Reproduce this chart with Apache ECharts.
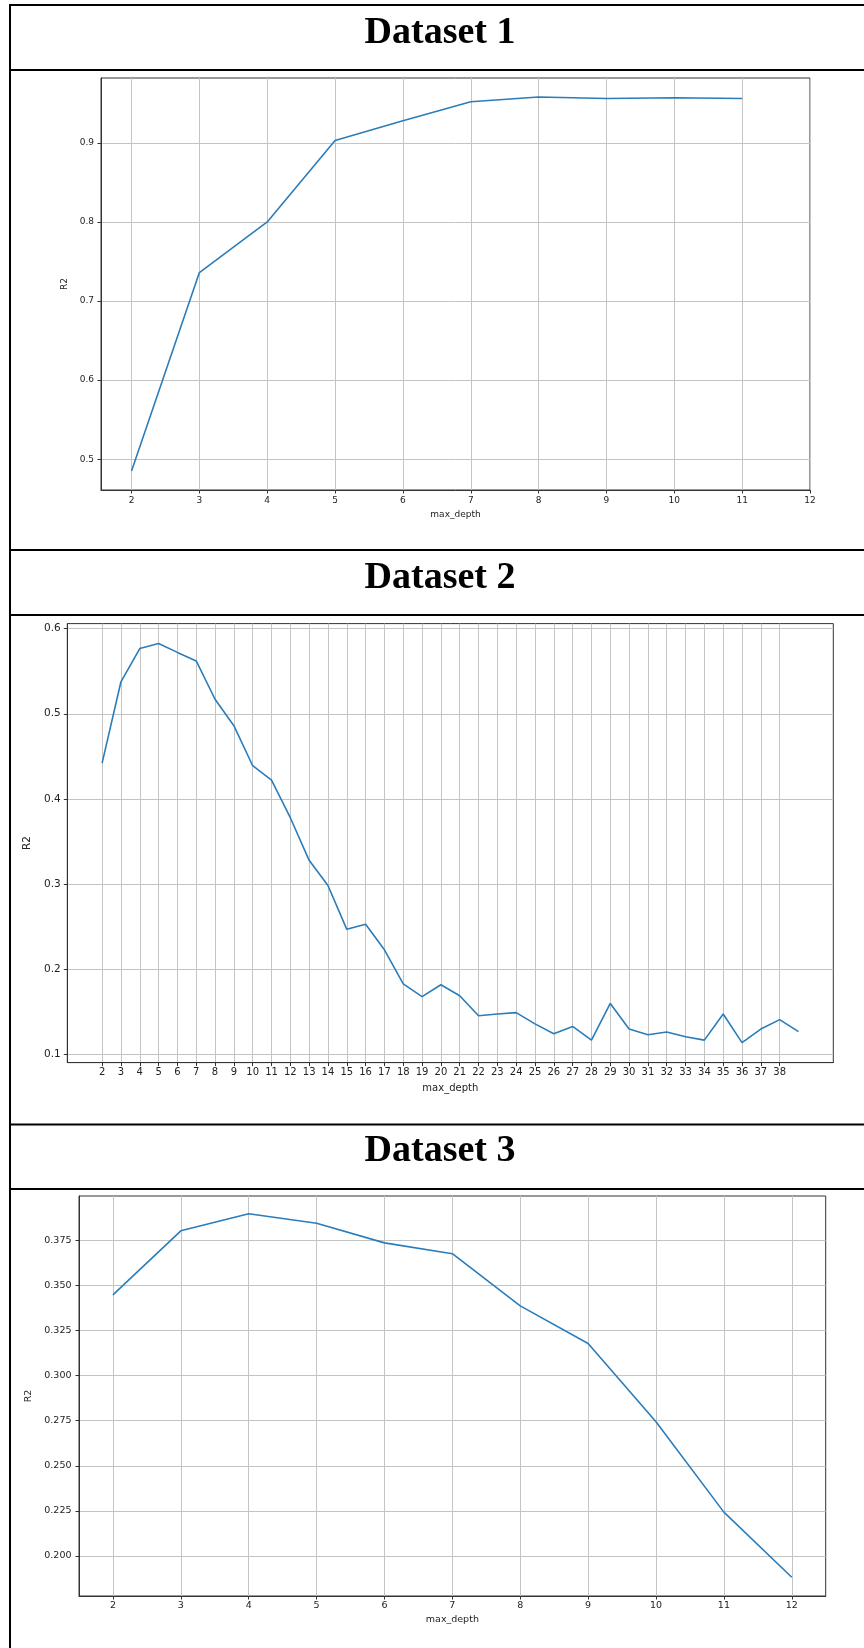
<!DOCTYPE html>
<html>
<head>
<meta charset="utf-8">
<script src="https://cdn.jsdelivr.net/npm/echarts@6/dist/echarts.min.js"></script>
<style>
  html, body { margin: 0; padding: 0; background: #fff; }
  #chart { width: 864px; height: 1648px; }
</style>
</head>
<body>
<div id="chart"></div>
<script>
// R2 score against tree max_depth for three datasets
const depth1 = [2, 3, 4, 5, 6, 7, 8, 9, 10, 11];
const r2Set1 = [0.485, 0.736, 0.800, 0.903, 0.928, 0.952, 0.958, 0.956, 0.957, 0.956];

const depth2 = [2, 3, 4, 5, 6, 7, 8, 9, 10, 11, 12, 13, 14, 15, 16, 17, 18, 19, 20, 21,
                22, 23, 24, 25, 26, 27, 28, 29, 30, 31, 32, 33, 34, 35, 36, 37, 38, 39];
const r2Set2 = [0.442, 0.5375, 0.5765, 0.5824, 0.572, 0.562, 0.517, 0.486, 0.439, 0.422,
                0.378, 0.328, 0.2985, 0.247, 0.253, 0.223, 0.183, 0.168, 0.182, 0.169,
                0.1455, 0.1476, 0.1493, 0.136, 0.1245, 0.133, 0.117, 0.160, 0.130, 0.1233,
                0.1266, 0.121, 0.117, 0.1476, 0.114, 0.130, 0.141, 0.127];

const depth3 = [2, 3, 4, 5, 6, 7, 8, 9, 10, 11, 12];
const r2Set3 = [0.3448, 0.3803, 0.3898, 0.3845, 0.3736, 0.3676, 0.3387, 0.3178, 0.2744, 0.2243, 0.1882];

// tick values
const xTicks1 = [2, 3, 4, 5, 6, 7, 8, 9, 10, 11, 12];
const yTicks1 = [0.5, 0.6, 0.7, 0.8, 0.9];
const xTicks2 = [2, 3, 4, 5, 6, 7, 8, 9, 10, 11, 12, 13, 14, 15, 16, 17, 18, 19, 20, 21,
                 22, 23, 24, 25, 26, 27, 28, 29, 30, 31, 32, 33, 34, 35, 36, 37, 38];
const yTicks2 = [0.1, 0.2, 0.3, 0.4, 0.5, 0.6];
const xTicks3 = [2, 3, 4, 5, 6, 7, 8, 9, 10, 11, 12];
const yTicks3 = [0.200, 0.225, 0.250, 0.275, 0.300, 0.325, 0.350, 0.375];

const titles = ['Dataset 1', 'Dataset 2', 'Dataset 3'];

const LINE_BLUE = '#2a7dba';
const SPINE = '#333333';
const GRIDC = '#c4c4c4';
const TICKFONT = 'DejaVu Sans';

function pairs(xs, ys) { return xs.map((x, i) => [x, ys[i]]); }

function xAxisCfg(idx, min, max, ticks, fs, margin, gap) {
  return {
    type: 'value', gridIndex: idx, min: min, max: max,
    name: 'max_depth', nameLocation: 'middle', nameGap: gap,
    nameTextStyle: { fontFamily: TICKFONT, fontSize: fs, color: '#222' },
    axisLine: { show: true, onZero: false, lineStyle: { color: SPINE, width: 1 } },
    axisTick: { show: true, inside: false, length: 3.5, customValues: ticks, lineStyle: { color: SPINE, width: 1 } },
    axisLabel: { customValues: ticks, fontFamily: TICKFONT, fontSize: fs, color: '#222', margin: margin,
                 showMinLabel: true, showMaxLabel: true, hideOverlap: false },
    splitLine: { show: true, lineStyle: { color: GRIDC, width: 1 } }
  };
}

function yAxisCfg(idx, min, max, ticks, digits, fs, margin, gap) {
  return {
    type: 'value', gridIndex: idx, min: min, max: max,
    name: 'R2', nameLocation: 'middle', nameGap: gap, nameRotate: 90,
    nameTextStyle: { fontFamily: TICKFONT, fontSize: fs, color: '#222' },
    axisLine: { show: true, onZero: false, lineStyle: { color: SPINE, width: 1 } },
    axisTick: { show: true, inside: false, length: 3.5, customValues: ticks, lineStyle: { color: SPINE, width: 1 } },
    axisLabel: { customValues: ticks, fontFamily: TICKFONT, fontSize: fs, color: '#222', margin: margin,
                 formatter: v => Number(v).toFixed(digits), hideOverlap: false },
    splitLine: { show: true, lineStyle: { color: GRIDC, width: 1 } }
  };
}

function seriesCfg(idx, xs, ys) {
  return {
    type: 'line', xAxisIndex: idx, yAxisIndex: idx,
    data: pairs(xs, ys), showSymbol: false, symbol: 'none', smooth: false,
    lineStyle: { color: LINE_BLUE, width: 1.6 }, z: 5
  };
}

// page frame: boxed header rows above each plot
const frameLines = [5, 70, 550, 615, 1124.5, 1189].map(y => ({
  type: 'line', silent: true,
  shape: { x1: 9, y1: y, x2: 864, y2: y },
  style: { stroke: '#000', lineWidth: 2 }
}));
frameLines.push({
  type: 'line', silent: true,
  shape: { x1: 10, y1: 4, x2: 10, y2: 1648 },
  style: { stroke: '#000', lineWidth: 2 }
});

const titleYs = [33, 578, 1151.5];
const titleTexts = titles.map((t, i) => ({
  type: 'text', silent: true,
  style: {
    text: t, x: 440, y: titleYs[i], align: 'center', verticalAlign: 'middle',
    font: 'bold 38px "Liberation Serif", "Times New Roman", serif', fill: '#000'
  }
}));

const chart = echarts.init(document.getElementById('chart'), null, { renderer: 'canvas' });
chart.setOption({
  animation: false,
  backgroundColor: '#fff',
  grid: [
    { left: 101, top: 78, width: 709, height: 412, show: true, borderColor: SPINE, borderWidth: 1, backgroundColor: 'transparent' },
    { left: 67.3, top: 623.6, width: 766, height: 439, show: true, borderColor: SPINE, borderWidth: 1, backgroundColor: 'transparent' },
    { left: 79, top: 1196, width: 746.7, height: 400, show: true, borderColor: SPINE, borderWidth: 1, backgroundColor: 'transparent' }
  ],
  xAxis: [
    xAxisCfg(0, 1.55, 12, xTicks1, 9, 6, 20),
    xAxisCfg(1, 0.15, 40.85, xTicks2, 10, 5, 21),
    xAxisCfg(2, 1.5, 12.5, xTicks3, 9.5, 5, 19)
  ],
  yAxis: [
    yAxisCfg(0, 0.461, 0.982, yTicks1, 1, 9, 7, 25),
    yAxisCfg(1, 0.0906, 0.6058, yTicks2, 1, 10.5, 6.5, 27),
    yAxisCfg(2, 0.1778, 0.3996, yTicks3, 3, 9.5, 7.5, 39)
  ],
  series: [
    seriesCfg(0, depth1, r2Set1),
    seriesCfg(1, depth2, r2Set2),
    seriesCfg(2, depth3, r2Set3)
  ],
  graphic: frameLines.concat(titleTexts)
});
</script>
</body>
</html>
